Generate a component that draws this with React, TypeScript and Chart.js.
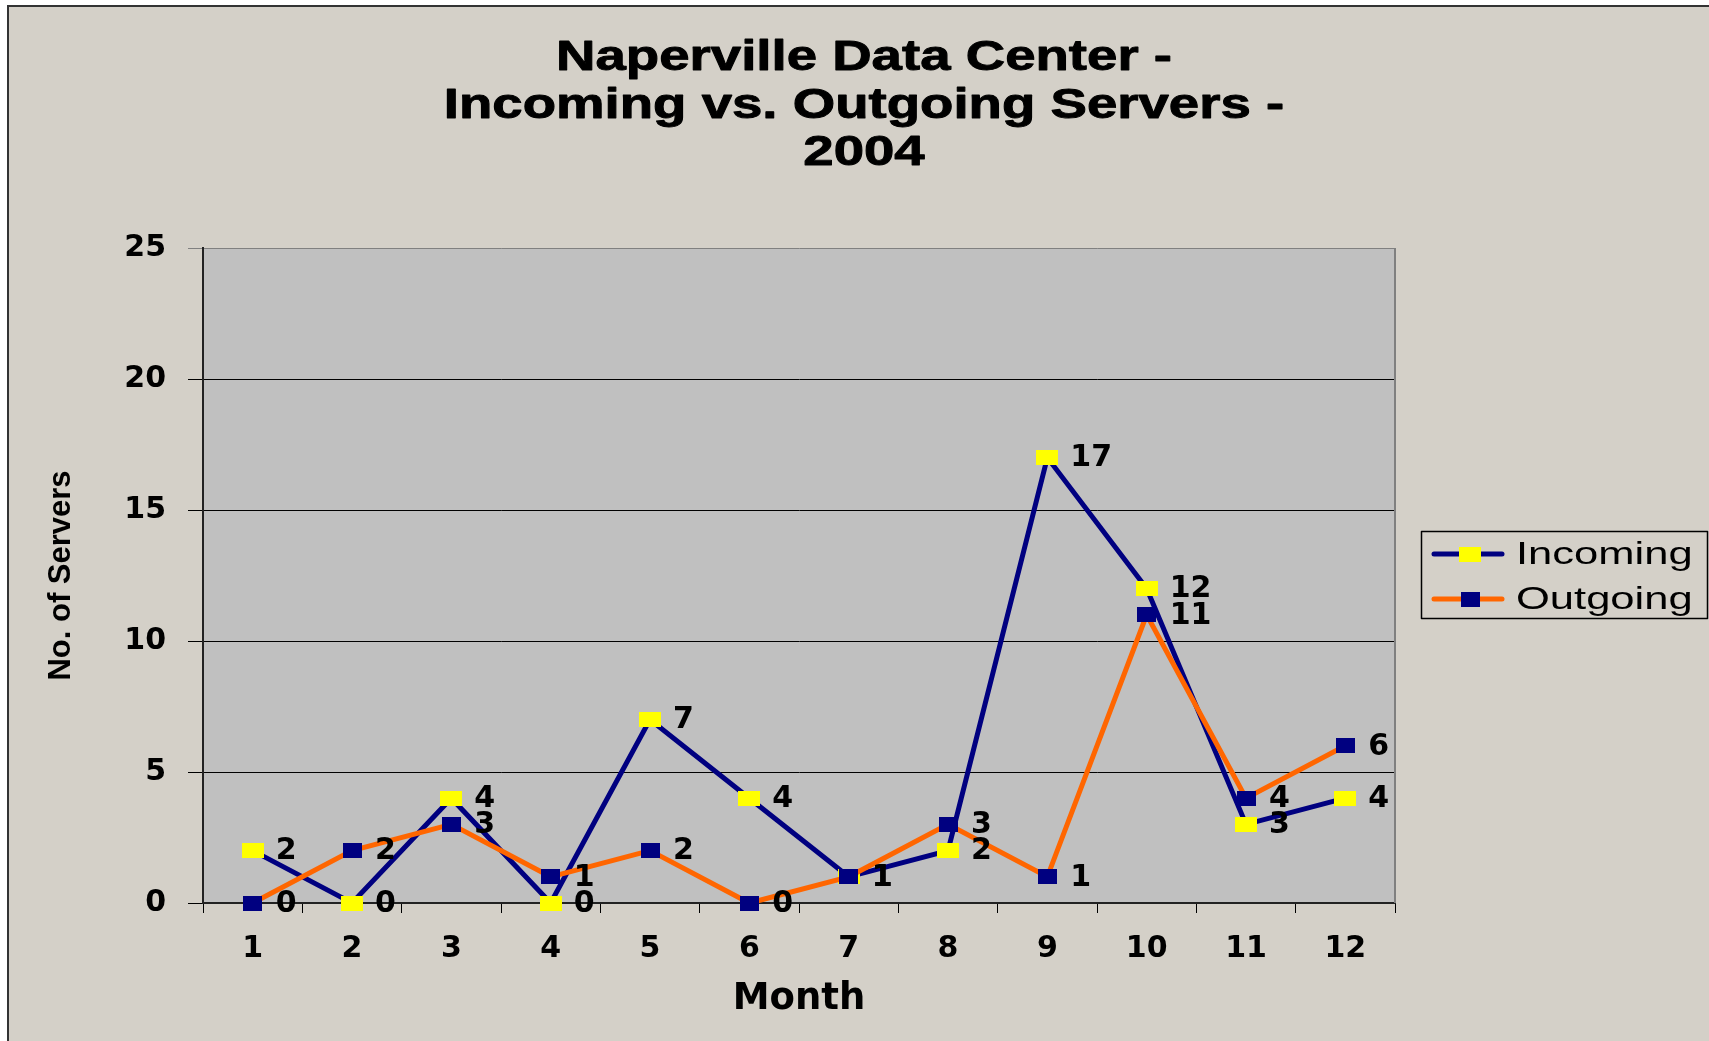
import React, { useEffect, useRef } from 'react';
import { Chart, registerables } from 'chart.js';

Chart.register(...registerables);

const months = ['1', '2', '3', '4', '5', '6', '7', '8', '9', '10', '11', '12'];
const incoming = [2, 0, 4, 0, 7, 4, 1, 2, 17, 12, 3, 4];
const outgoing = [0, 2, 3, 1, 2, 0, 1, 3, 1, 11, 4, 6];
const yTicks = [0, 5, 10, 15, 20, 25];
const titleLines = ['Naperville Data Center -', 'Incoming vs. Outgoing Servers -', '2004'];
const seriesNames = ['Incoming', 'Outgoing'];
const xTitle = 'Month';
const yTitle = 'No. of Servers';

const NAVY = '#000080';
const ORANGE = '#FF6600';
const YELLOW = '#FFFF00';
const BG = '#D4D0C8';
const PLOT_BG = '#C0C0C0';
const TICK_FONT = { family: '"DejaVu Sans", sans-serif', weight: 'bold' as const, size: 30, lineHeight: 1.2 };

function makeMarker(w: number, h: number, fill: string) {
  const c = document.createElement('canvas');
  c.width = w;
  c.height = h;
  const g = c.getContext('2d')!;
  g.fillStyle = fill;
  g.fillRect(0, 0, w, h);
  return c;
}

export default function App() {
  const ref = useRef<HTMLCanvasElement>(null);

  useEffect(() => {
    const canvas = ref.current!;
    const yellowMk = makeMarker(22, 15, YELLOW);
    const navyMk = makeMarker(19, 15, NAVY);
    const markers = [yellowMk, navyMk];
    const lineColors = [NAVY, ORANGE];

    const decor = {
      id: 'decor',
      beforeDraw(chart: any) {
        const { ctx, width, height, chartArea } = chart;
        ctx.save();
        ctx.fillStyle = '#FFFFFF';
        ctx.fillRect(0, 0, width, height);
        ctx.fillStyle = BG;
        ctx.fillRect(9, 7, width, height);
        ctx.fillStyle = '#333333';
        ctx.fillRect(7, 5, 2, height);
        ctx.fillRect(7, 5, width, 2);
        ctx.fillStyle = PLOT_BG;
        ctx.fillRect(chartArea.left, chartArea.top, chartArea.right - chartArea.left, chartArea.bottom - chartArea.top);
        ctx.restore();
      },
      beforeDatasetsDraw(chart: any) {
        const { ctx, chartArea } = chart;
        ctx.save();
        ctx.strokeStyle = '#808080';
        ctx.lineWidth = 2;
        ctx.beginPath();
        ctx.moveTo(chartArea.right, chartArea.top);
        ctx.lineTo(chartArea.right, chartArea.bottom);
        ctx.stroke();
        ctx.restore();
      },
      afterDatasetsDraw(chart: any) {
        const { ctx } = chart;
        ctx.save();
        ctx.fillStyle = '#000';
        ctx.font = `bold ${TICK_FONT.size}px ${TICK_FONT.family}`;
        ctx.textAlign = 'left';
        ctx.textBaseline = 'middle';
        chart.data.datasets.forEach((ds: any, di: number) => {
          const meta = chart.getDatasetMeta(di);
          meta.data.forEach((pt: any, i: number) => {
            ctx.fillText(String(ds.data[i]), pt.x + 23, pt.y + 1);
          });
        });
        ctx.restore();
      },
      afterDraw(chart: any) {
        const { ctx } = chart;
        ctx.save();
        // Title
        ctx.fillStyle = '#000';
        ctx.strokeStyle = '#000';
        ctx.lineWidth = 0.9;
        ctx.lineJoin = 'round';
        ctx.font = 'bold 42px "Liberation Sans", Arial, sans-serif';
        ctx.textAlign = 'center';
        ctx.textBaseline = 'middle';
        const ys = [58, 106, 153];
        titleLines.forEach((t, i) => {
          ctx.save();
          ctx.translate(864, ys[i]);
          ctx.scale(1.3, 1);
          ctx.fillText(t, 0, 0);
          ctx.strokeText(t, 0, 0);
          ctx.restore();
        });
        // Legend
        ctx.fillStyle = BG;
        ctx.fillRect(1421, 531, 287, 87);
        ctx.strokeStyle = '#000';
        ctx.lineWidth = 1.5;
        ctx.strokeRect(1421.5, 531.5, 286, 87);
        const rowY = [554, 599];
        seriesNames.forEach((name, i) => {
          const y = rowY[i];
          ctx.strokeStyle = lineColors[i];
          ctx.lineWidth = 5;
          ctx.lineCap = 'round';
          ctx.beginPath();
          ctx.moveTo(1434, y);
          ctx.lineTo(1502, y);
          ctx.stroke();
          const mk = markers[i];
          ctx.drawImage(mk, 1470 - mk.width / 2, y - mk.height / 2);
          ctx.save();
          ctx.fillStyle = '#000';
          ctx.font = '32px "Liberation Sans", Arial, sans-serif';
          ctx.textAlign = 'left';
          ctx.textBaseline = 'middle';
          ctx.translate(1516, y + 1);
          ctx.scale(1.36, 1);
          ctx.fillText(name, 0, 0);
          ctx.restore();
        });
        ctx.restore();
      },
    };

    const chart = new Chart(canvas, {
      type: 'line',
      data: {
        labels: months,
        datasets: [
          {
            label: seriesNames[0],
            data: incoming,
            borderColor: NAVY,
            backgroundColor: YELLOW,
            borderWidth: 5,
            pointStyle: yellowMk as any,
            pointRadius: 5,
            tension: 0,
            fill: false,
            clip: false as any,
            order: 1,
          },
          {
            label: seriesNames[1],
            data: outgoing,
            borderColor: ORANGE,
            backgroundColor: NAVY,
            borderWidth: 5,
            pointStyle: navyMk as any,
            pointRadius: 5,
            tension: 0,
            fill: false,
            clip: false as any,
            order: 0,
          },
        ],
      },
      options: {
        responsive: false,
        animation: false,
        devicePixelRatio: 1,
        layout: { padding: { top: 248, right: 314, bottom: 0, left: 8 } },
        plugins: {
          legend: { display: false },
          title: { display: false },
          tooltip: { enabled: false },
        },
        scales: {
          x: {
            type: 'category',
            offset: true,
            ticks: { color: '#000', font: TICK_FONT, padding: 18, maxRotation: 0, autoSkip: false },
            grid: { offset: true, drawOnChartArea: false, drawTicks: true, tickLength: 10, color: '#000', lineWidth: 1 },
            border: { display: true, color: '#222', width: 2 },
            title: {
              display: true,
              text: xTitle,
              color: '#000',
              font: { family: '"DejaVu Sans", sans-serif', weight: 'bold', size: 37, lineHeight: 1.2 },
              padding: { top: 0, bottom: 19 },
            },
            afterFit: (s: any) => {
              s.height = 138;
            },
          },
          y: {
            min: 0,
            max: 25,
            afterBuildTicks: (s: any) => {
              s.ticks = yTicks.map((v) => ({ value: v }));
            },
            ticks: { color: '#000', font: TICK_FONT, padding: 22 },
            grid: {
              color: (c: any) => (c.tick && c.tick.value === 25 ? '#808080' : '#000'),
              lineWidth: 1,
              tickLength: 15,
              drawTicks: true,
            },
            border: { display: true, color: '#222', width: 2 },
            title: {
              display: true,
              text: yTitle,
              color: '#000',
              font: { family: '"Liberation Sans", Arial, sans-serif', weight: 'bold', size: 31, lineHeight: 1.2 },
              padding: { top: 35, bottom: 0 },
            },
            afterFit: (s: any) => {
              s.width = 195;
            },
          },
        },
      },
      plugins: [decor],
    });

    return () => chart.destroy();
  }, []);

  return (
    <div style={{ position: 'fixed', left: 0, top: 0, width: 1709, height: 1041 }}>
      <canvas ref={ref} width={1709} height={1041} style={{ display: 'block', width: 1709, height: 1041 }} />
    </div>
  );
}
